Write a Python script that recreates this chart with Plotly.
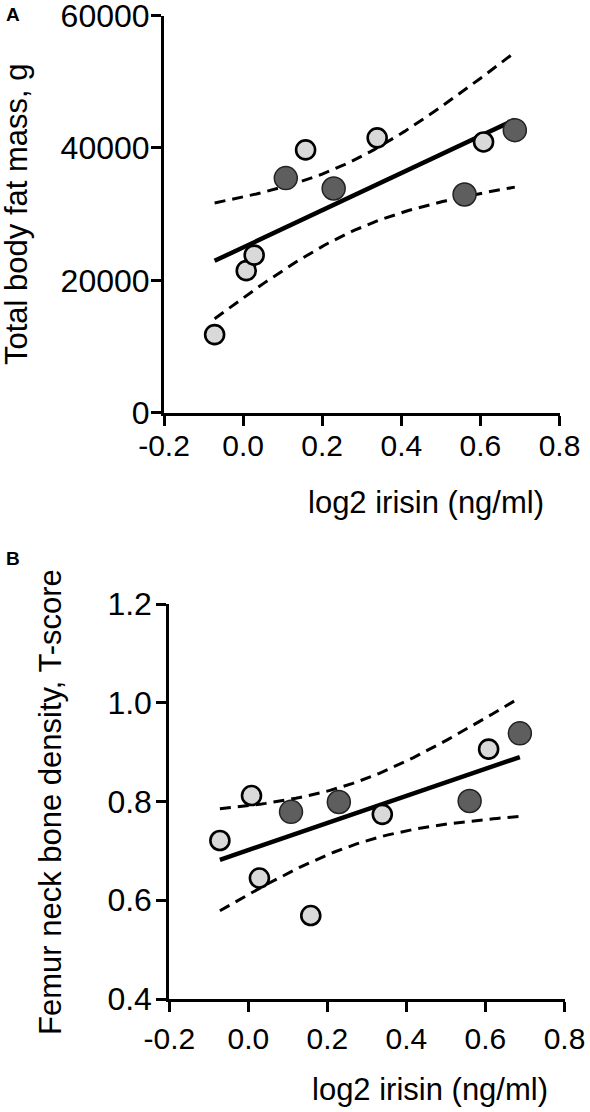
import numpy as np
import plotly.graph_objects as go

# ---------------- data ----------------
irisin_light = [-0.072, 0.008, 0.028, 0.158, 0.339, 0.608]
irisin_dark = [0.108, 0.229, 0.560, 0.687]

fat_light = [11800, 21460, 23800, 39700, 41520, 40900]
fat_dark = [35440, 33870, 32960, 42680]

bmd_light = [0.721, 0.812, 0.645, 0.569, 0.774, 0.906]
bmd_dark = [0.779, 0.799, 0.801, 0.938]

x_ticks = [-0.2, 0.0, 0.2, 0.4, 0.6, 0.8]
x_ticktext = ["-0.2", "0.0", "0.2", "0.4", "0.6", "0.8"]
fat_ticks = [0, 20000, 40000, 60000]
fat_ticktext = ["0", "20000", "40000", "60000"]
bmd_ticks = [0.4, 0.6, 0.8, 1.0, 1.2]
bmd_ticktext = ["0.4", "0.6", "0.8", "1.0", "1.2"]

x_title = "log2 irisin (ng/ml)"
fat_title = "Total body fat mass, g"
bmd_title = "Femur neck bone density, T-score"

T_CRIT = 2.306  # two-sided 95 %, df = 8


def fit_with_ci(xl, xd, yl, yd):
    x = np.array(xl + xd, dtype=float)
    y = np.array(yl + yd, dtype=float)
    n = len(x)
    slope, intercept = np.polyfit(x, y, 1)
    resid = y - (slope * x + intercept)
    s = np.sqrt(np.sum(resid ** 2) / (n - 2))
    mx = x.mean()
    sxx = np.sum((x - mx) ** 2)
    xs = np.linspace(x.min(), x.max(), 80)
    yhat = slope * xs + intercept
    half = T_CRIT * s * np.sqrt(1.0 / n + (xs - mx) ** 2 / sxx)
    return xs, yhat, yhat + half, yhat - half


W, H = 590, 1112
FONT = "Liberation Sans, Arial, sans-serif"

fig = go.Figure()

panels = [
    ("x", "y", fat_light, fat_dark),
    ("x2", "y2", bmd_light, bmd_dark),
]

for xa, ya, yl, yd in panels:
    xs, yhat, up, lo = fit_with_ci(irisin_light, irisin_dark, yl, yd)
    for band in (up, lo):
        fig.add_trace(go.Scatter(x=xs, y=band, mode="lines", xaxis=xa, yaxis=ya,
                                 line=dict(color="black", width=3, dash="11px,7px"),
                                 showlegend=False, hoverinfo="skip"))
    fig.add_trace(go.Scatter(x=xs, y=yhat, mode="lines", xaxis=xa, yaxis=ya,
                             line=dict(color="black", width=4.5),
                             showlegend=False, hoverinfo="skip"))
    fig.add_trace(go.Scatter(x=irisin_dark, y=yd, mode="markers", xaxis=xa, yaxis=ya,
                             marker=dict(size=23, color="#5e5e5e",
                                         line=dict(color="#222222", width=1.5)),
                             showlegend=False))
    fig.add_trace(go.Scatter(x=irisin_light, y=yl, mode="markers", xaxis=xa, yaxis=ya,
                             marker=dict(size=19, color="#d9d9d9",
                                         line=dict(color="black", width=2.6)),
                             showlegend=False))

axis_common = dict(showline=True, linewidth=3, linecolor="black", ticks="outside",
                   ticklen=10, tickwidth=2.5, tickcolor="black", showgrid=False,
                   zeroline=False, automargin=False, ticklabeloverflow="allow")

xfont = dict(family=FONT, size=30, color="black")
yfont = dict(family=FONT, size=32, color="black")


def px_x(p):
    return p / W


def px_y(p):
    return 1 - p / H


fig.update_layout(
    width=W, height=H, margin=dict(l=0, r=0, t=0, b=0),
    paper_bgcolor="white", plot_bgcolor="white", showlegend=False,
    xaxis=dict(domain=[px_x(164), px_x(559.5)], range=[-0.2, 0.8], anchor="y",
               tickvals=x_ticks, ticktext=x_ticktext, ticklabelstandoff=-6,
               tickfont=xfont, **axis_common),
    yaxis=dict(domain=[px_y(412.7), px_y(15.5)], range=[0, 60000], anchor="x",
               tickvals=fat_ticks, ticktext=fat_ticktext, ticklabelstandoff=-5,
               tickfont=yfont, **axis_common),
    xaxis2=dict(domain=[px_x(169.3), px_x(564.5)], range=[-0.2, 0.8], anchor="y2",
                tickvals=x_ticks, ticktext=x_ticktext, ticklabelstandoff=1,
                tickfont=xfont, **axis_common),
    yaxis2=dict(domain=[px_y(999), px_y(604)], range=[0.4, 1.2], anchor="x2",
                tickvals=bmd_ticks, ticktext=bmd_ticktext, ticklabelstandoff=-2,
                tickfont=yfont, **axis_common),
)

ann_font = dict(family=FONT, size=31, color="black")
annotations = [
    dict(text=fat_title, x=px_x(16), y=px_y(214), textangle=-90, font=ann_font),
    dict(text=bmd_title, x=px_x(50), y=px_y(802), textangle=-90, font=ann_font),
    dict(text=x_title, x=px_x(426), y=px_y(502), font=ann_font),
    dict(text=x_title, x=px_x(429.5), y=px_y(1089), font=ann_font),
    dict(text="<b>A</b>", x=px_x(12.5), y=px_y(14), font=dict(family=FONT, size=19, color="black")),
    dict(text="<b>B</b>", x=px_x(13), y=px_y(558.5), font=dict(family=FONT, size=19, color="black")),
]
for a in annotations:
    a.update(xref="paper", yref="paper", showarrow=False, xanchor="center", yanchor="middle")
fig.update_layout(annotations=annotations)

fig.write_html("out.html", config={"displayModeBar": False},
               post_script="document.body.style.margin='0';")
